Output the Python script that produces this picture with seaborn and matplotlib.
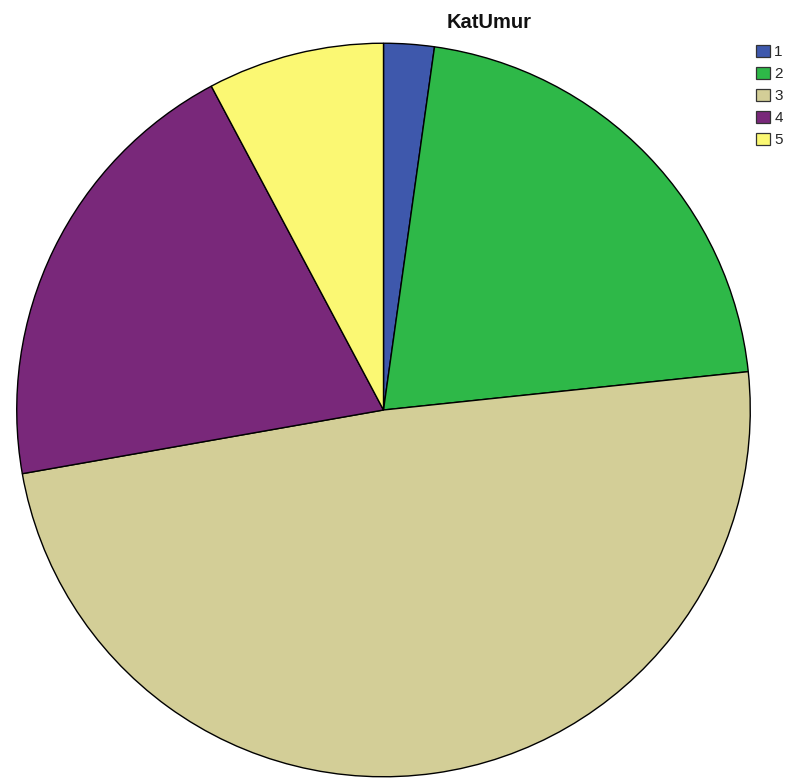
import matplotlib
matplotlib.use("Agg")
import matplotlib.pyplot as plt
import seaborn as sns
from matplotlib.patches import Patch

sns.set_theme(style="white")
plt.rcParams["font.family"] = ["Liberation Sans", "DejaVu Sans"]

# Age-category counts
categories = ["1", "2", "3", "4", "5"]
counts = [2, 19, 44, 18, 7]
colors = ["#3E58AC", "#2EB848", "#D3CE97", "#79287A", "#FBF873"]
title = "KatUmur"

W, H = 790, 778
fig = plt.figure(figsize=(W / 100, H / 100), dpi=100)
fig.patch.set_facecolor("white")

# Square axes so the pie is a true circle
cx, cy, r = 383.5, 410.0, 367.5
ax = fig.add_axes([(cx - r) / W, (H - cy - r) / H, 2 * r / W, 2 * r / H])
ax.pie(counts, colors=colors, startangle=90, counterclock=False, radius=1,
       wedgeprops=dict(edgecolor="black", linewidth=1.0))
ax.set_xlim(-1.002, 1.002)
ax.set_ylim(-1.002, 1.002)
ax.set_aspect("auto")
ax.axis("off")

fig.text(489 / W, 1 - 22 / H, title, ha="center", va="center",
         fontsize=14.5, fontweight="bold", color="#111111")

handles = [Patch(facecolor=c, edgecolor="#333333", linewidth=0.9) for c in colors]
fig.legend(handles, categories, loc="upper left",
           bbox_to_anchor=(756 / W, 1 - 45 / H), frameon=False,
           fontsize=11, handlelength=0.9, handleheight=0.85,
           handletextpad=0.3, labelspacing=0.5, borderpad=0,
           borderaxespad=0)

fig.savefig("out.png", dpi=100, facecolor="white")
